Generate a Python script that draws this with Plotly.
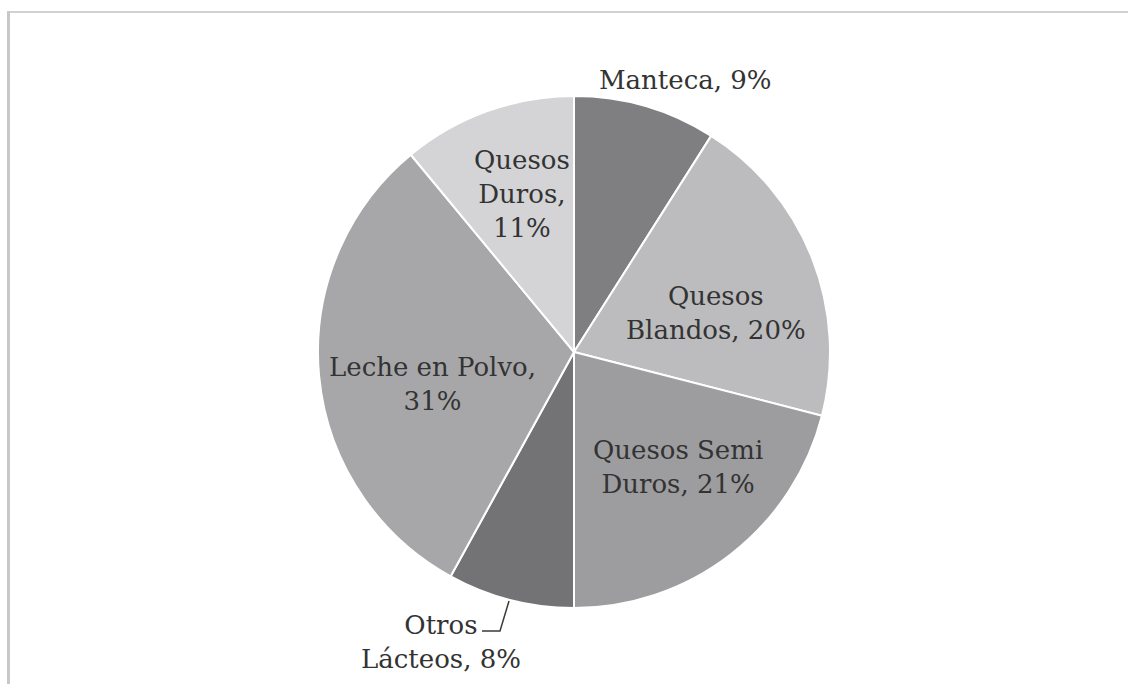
import plotly.graph_objects as go

labels = ["Manteca", "Quesos Blandos", "Quesos Semi Duros", "Otros Lácteos", "Leche en Polvo", "Quesos Duros"]
values = [9, 20, 21, 8, 31, 11]
colors = ["#7f7f82", "#bcbcbe", "#9d9d9f", "#737376", "#a7a7a9", "#d4d4d6"]
# how each label is broken into lines (text shown = name + ", " + value%)
label_breaks = ["Manteca, {}%", "Quesos<br>Blandos, {}%", "Quesos Semi<br>Duros, {}%",
                "Otros<br>Lácteos, {}%", "Leche en Polvo,<br>{}%", "Quesos<br>Duros,<br>{}%"]
# label centres in pixels (layout only)
label_pos = [(685, 80), (716, 313), (678, 467), (441, 642), (432, 384), (522, 194)]

W, H = 1128, 684
cx, cy, R = 574, 352, 256

fig = go.Figure(go.Pie(
    labels=labels, values=values, sort=False, direction="clockwise", rotation=0,
    marker=dict(colors=colors, line=dict(color="white", width=2)),
    textinfo="none", hoverinfo="label+percent", showlegend=False,
    domain=dict(x=[(cx - R) / W, (cx + R) / W], y=[1 - (cy + R) / H, 1 - (cy - R) / H]),
))

annotations = []
for i, (lab, v, (px, py)) in enumerate(zip(labels, values, label_pos)):
    annotations.append(dict(
        x=px / W, y=1 - py / H, xref="paper", yref="paper",
        text=label_breaks[i].format(v), showarrow=False,
        align="center", xanchor="center", yanchor="middle",
        font=dict(family="DejaVu Serif", size=26, color="#333333"),
    ))

shapes = [
    dict(type="line", xref="paper", yref="paper", x0=8 / W, x1=1, y0=1 - 12 / H, y1=1 - 12 / H,
         line=dict(color="#d2d2d4", width=2)),
    dict(type="line", xref="paper", yref="paper", x0=8.5 / W, x1=8.5 / W, y0=0, y1=1 - 11 / H,
         line=dict(color="#c8c8ca", width=3)),
    # leader line for Otros Lácteos
    dict(type="path", xref="paper", yref="paper",
         path=f"M {482 / W} {1 - 631 / H} L {500 / W} {1 - 631 / H} L {509 / W} {1 - 601 / H}",
         line=dict(color="#3a3a3a", width=1.5)),
]

fig.update_layout(
    width=W, height=H, margin=dict(l=0, r=0, t=0, b=0),
    paper_bgcolor="white", plot_bgcolor="white",
    annotations=annotations, shapes=shapes,
)

fig.write_html("out.html", config={"displayModeBar": False},
               post_script="document.body.style.margin='0';document.body.style.overflow='hidden';")
